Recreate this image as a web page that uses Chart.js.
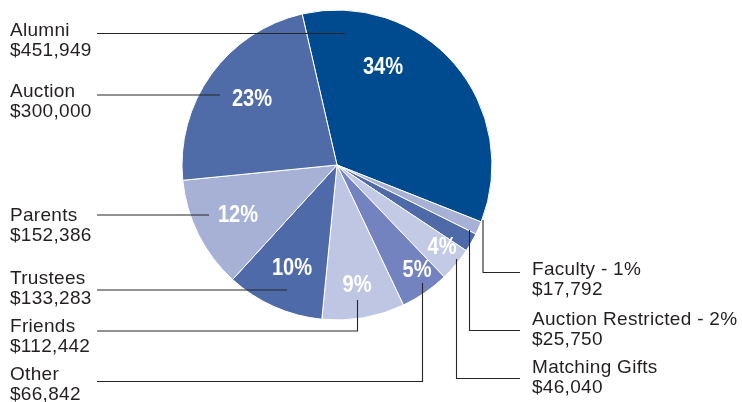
<!DOCTYPE html>
<html>
<head>
<meta charset="utf-8">
<script src="https://cdn.jsdelivr.net/npm/chart.js@4/dist/chart.umd.min.js"></script>
<style>
  html, body { margin: 0; padding: 0; background: #ffffff; }
  #wrap { width: 742px; height: 402px; position: relative; }
</style>
</head>
<body>
<div id="wrap"><canvas id="c" width="742" height="402"></canvas></div>
<script>
// ---- data (clockwise from the Alumni slice) ----
const categories = ["Alumni", "Faculty", "Auction Restricted", "Matching Gifts", "Other", "Friends", "Trustees", "Parents", "Auction"];
const amounts = [451949, 17792, 25750, 46040, 66842, 112442, 133283, 152386, 300000];
const amountLabels = ["$451,949", "$17,792", "$25,750", "$46,040", "$66,842", "$112,442", "$133,283", "$152,386", "$300,000"];
const nameLabels = ["Alumni", "Faculty - 1%", "Auction Restricted - 2%", "Matching Gifts", "Other", "Friends", "Trustees", "Parents", "Auction"];
const percentLabels = ["34%", "", "", "4%", "5%", "9%", "10%", "12%", "23%"];

// ---- styles ----
const sliceColors = ["#004b8f", "#a6b1d5", "#4e6aa9", "#c3cae5", "#7383bf", "#bec6e3", "#4e6aa9", "#a6b1d5", "#506ca8"];

// ---- annotation layout (label text anchors and leader-line paths) ----
const textLayout = [
  {x: 10,  y: 36},   // Alumni
  {x: 532, y: 275},  // Faculty
  {x: 532, y: 325},  // Auction Restricted
  {x: 532, y: 373},  // Matching Gifts
  {x: 10,  y: 380},  // Other
  {x: 10,  y: 332},  // Friends
  {x: 10,  y: 284},  // Trustees
  {x: 10,  y: 221},  // Parents
  {x: 10,  y: 97}    // Auction
];
const leaderPaths = [
  [[97, 33.5], [345, 33.5]],
  [[483, 220], [483, 272.5], [520, 272.5]],
  [[469.5, 230], [469.5, 330.5], [520, 330.5]],
  [[456.5, 259], [456.5, 378.5], [520, 378.5]],
  [[97, 381.5], [422.5, 381.5], [422.5, 283]],
  [[97, 331], [357.5, 331], [357.5, 300]],
  [[97, 290], [287, 290]],
  [[97, 215], [209, 215]],
  [[97, 95], [220, 95]]
];
const percentPos = [
  {x: 383, y: 66}, null, null,
  {x: 442, y: 246}, {x: 417, y: 269}, {x: 357, y: 284},
  {x: 292, y: 267}, {x: 238, y: 214}, {x: 252, y: 98}
];

const annotations = {
  id: 'annotations',
  afterDatasetsDraw(chart) {
    const ctx = chart.ctx;
    ctx.save();
    // leader lines
    ctx.strokeStyle = '#262626';
    ctx.lineWidth = 1.1;
    leaderPaths.forEach(p => {
      ctx.beginPath();
      ctx.moveTo(p[0][0], p[0][1]);
      for (let i = 1; i < p.length; i++) ctx.lineTo(p[i][0], p[i][1]);
      ctx.stroke();
    });
    // category labels
    ctx.fillStyle = '#231f20';
    ctx.textAlign = 'left';
    ctx.textBaseline = 'alphabetic';
    ctx.font = '19px "Liberation Sans", Arial, sans-serif';
    try { ctx.letterSpacing = '0.3px'; } catch (e) {}
    categories.forEach((c, i) => {
      const t = textLayout[i];
      ctx.fillText(nameLabels[i], t.x, t.y);
      ctx.fillText(amountLabels[i], t.x, t.y + 19.5);
    });
    try { ctx.letterSpacing = '0px'; } catch (e) {}
    // percent labels (condensed bold)
    ctx.fillStyle = '#ffffff';
    ctx.textAlign = 'center';
    ctx.textBaseline = 'middle';
    ctx.font = 'bold 24.5px "Liberation Sans", Arial, sans-serif';
    const sx = 0.82;
    percentLabels.forEach((p, i) => {
      if (!p || !percentPos[i]) return;
      ctx.save();
      ctx.translate(percentPos[i].x, percentPos[i].y + 1);
      ctx.scale(sx, 1);
      ctx.fillText(p, 0, 0);
      ctx.restore();
    });
    ctx.restore();
  }
};

new Chart(document.getElementById('c'), {
  type: 'pie',
  data: {
    labels: categories,
    datasets: [{
      data: amounts,
      backgroundColor: sliceColors,
      borderColor: '#ffffff',
      borderWidth: 1
    }]
  },
  options: {
    responsive: false,
    animation: false,
    rotation: -13,
    radius: 155,
    layout: { padding: { left: 0, top: 0, right: 68, bottom: 72 } },
    plugins: {
      legend: { display: false },
      tooltip: { enabled: false }
    }
  },
  plugins: [annotations]
});
</script>
</body>
</html>
